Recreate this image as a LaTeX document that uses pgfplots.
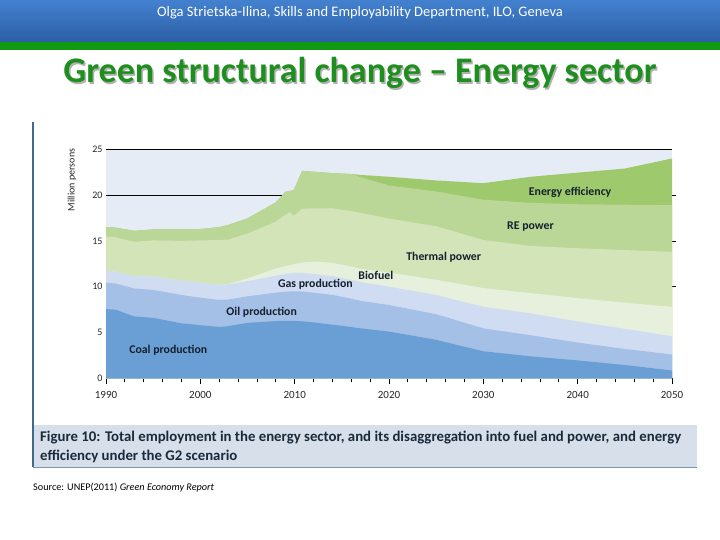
\documentclass[border=0pt]{standalone}
\usepackage{fontspec}
\setmainfont{Carlito}
\usepackage{pgfplots}
\usepackage{pgfplotstable}
\pgfplotsset{compat=1.18}

\definecolor{hdrtop}{HTML}{4381CF}
\definecolor{hdrbot}{HTML}{2C5EA5}
\definecolor{hdrgreen}{HTML}{129A12}
\definecolor{titlegreen}{HTML}{1E8E1E}
\definecolor{framec}{HTML}{3F6A8E}
\definecolor{capfill}{HTML}{D7DFEA}
\definecolor{captext}{HTML}{1B2A3A}
\definecolor{coalc}{HTML}{6A9FD6}
\definecolor{oilc}{HTML}{A4C0E6}
\definecolor{gasc}{HTML}{D0DCF1}
\definecolor{bioc}{HTML}{E7F0DC}
\definecolor{thermc}{HTML}{D3E4B9}
\definecolor{rec}{HTML}{BAD797}
\definecolor{eec}{HTML}{9EC96C}
\definecolor{bgl}{HTML}{E6ECF6}
\definecolor{labc}{HTML}{15202E}

% cumulative tops of the stacked layers (million persons)
\pgfplotstableread{
year   C     O     G     B     T     R     E
1990   7.55 10.45 11.75 11.75 15.45 16.50 16.50
1991   7.50 10.35 11.65 11.65 15.40 16.45 16.45
1993   6.75  9.80 11.15 11.15 14.90 16.10 16.10
1995   6.60  9.65 11.10 11.10 15.05 16.25 16.25
1998   6.00  9.10 10.65 10.65 15.00 16.25 16.25
2000   5.80  8.80 10.45 10.45 15.05 16.30 16.30
2002   5.60  8.55 10.20 10.20 15.10 16.50 16.50
2003   5.70  8.60 10.25 10.30 15.15 16.75 16.75
2005   6.05  8.95 10.60 10.90 15.80 17.45 17.45
2008   6.25  9.35 11.20 12.00 17.10 19.20 19.20
2009   6.28  9.45 11.40 12.25 17.85 20.35 20.35
2009.5 6.28  9.48 11.45 12.35 18.15 20.45 20.45
2009.9 6.27  9.50 11.50 12.45 17.75 20.55 20.55
2010.8 6.22  9.48 11.50 12.65 18.50 22.65 22.65
2012   6.10  9.35 11.40 12.75 18.55 22.55 22.55
2014   5.85  9.10 11.15 12.60 18.55 22.40 22.40
2016   5.60  8.70 10.75 12.20 18.25 22.30 22.30
2017   5.45  8.45 10.50 11.95 18.05 21.95 22.20
2020   5.10  8.00 10.00 11.55 17.45 21.05 22.00
2025   4.20  7.00  9.10 10.75 16.60 20.40 21.60
2030   2.95  5.45  7.80  9.85 15.10 19.50 21.30
2035   2.40  4.70  7.10  9.30 14.45 19.15 22.00
2040   1.95  3.90  6.20  8.75 14.20 19.00 22.45
2045   1.45  3.20  5.40  8.25 14.00 18.95 22.90
2050   0.85  2.60  4.60  7.80 13.80 18.90 24.00
}\energy

\begin{document}
\begin{tikzpicture}
\begin{scope}[x=1pt,y=1pt]
\useasboundingbox (0,0) rectangle (720,540);
% header
\shade[top color=hdrtop, bottom color=hdrbot] (0,498) rectangle (720,540);
\fill[hdrgreen] (0,490) rectangle (720,498);
\node[text=white, font=\fontsize{14.5}{16}\selectfont] at (360,527) {Olga Strietska-Ilina, Skills and Employability Department, ILO, Geneva};
% title with shadow
\node[text=black!30, font=\fontsize{36}{40}\selectfont\bfseries] at (361.5,465.5) {Green structural change – Energy sector};
\node[text=titlegreen, font=\fontsize{36}{40}\selectfont\bfseries] at (360,467) {Green structural change – Energy sector};
% figure frame and caption box
\fill[capfill] (33,73) rectangle (697,115);
\draw[framec, line width=1.2pt] (33,418) -- (33,73);
\draw[framec!70, line width=0.8pt] (33,73) -- (697,73);
\node[anchor=west, text=captext, font=\fontsize{14.8}{16}\selectfont\bfseries, inner sep=0] at (40,102) {Figure 10: Total employment in the energy sector, and its disaggregation into fuel and power, and energy};
\node[anchor=west, text=captext, font=\fontsize{14.8}{16}\selectfont\bfseries, inner sep=0] at (40,84) {efficiency under the G2 scenario};
\node[anchor=west, font=\fontsize{10.2}{12}\selectfont, inner sep=0] at (33,52) {Source: UNEP(2011) \textit{Green Economy Report}};
% y label
\node[rotate=90, font=\fontsize{10}{12}\selectfont, text=black!85] at (72,360) {Million persons};
% small outer ticks on the right edge
\draw[black, line width=0.6pt] (672,253.3) -- (676,253.3);
\draw[black, line width=0.6pt] (672,299.1) -- (676,299.1);
\draw[black, line width=0.6pt] (672,344.9) -- (676,344.9);
\end{scope}

\begin{axis}[
  at={(106pt,161.7pt)}, anchor=south west,
  scale only axis, width=566pt, height=229pt,
  xmin=1990, xmax=2050, ymin=0, ymax=25,
  axis x line*=bottom,
  axis y line*=left,
  y axis line style={draw=none},
  x axis line style={line width=1.4pt},
  xtick={1990,2000,2010,2020,2030,2040,2050},
  minor x tick num=4,
  ytick={0,5,10,15,20,25},
  ytick style={draw=none},
  xtick align=outside,
  major tick length=6pt, minor tick length=4pt,
  xtick style={black, line width=0.8pt},
  xticklabel style={font=\fontsize{11}{12}\selectfont, text=black!85, yshift=-4pt},
  yticklabel style={font=\fontsize{10}{12}\selectfont, text=black!85},
  /pgf/number format/assume math mode=true,
  /pgf/number format/1000 sep={},
  ymajorgrids, grid style={black, line width=0.7pt},
  axis background/.style={fill=bgl},
]
\addplot[fill=eec, draw=none] table[x=year,y=E] {\energy} \closedcycle;
\addplot[fill=rec, draw=none] table[x=year,y=R] {\energy} \closedcycle;
\addplot[fill=thermc, draw=none] table[x=year,y=T] {\energy} \closedcycle;
\addplot[fill=bioc, draw=none] table[x=year,y=B] {\energy} \closedcycle;
\addplot[fill=gasc, draw=none] table[x=year,y=G] {\energy} \closedcycle;
\addplot[fill=oilc, draw=none] table[x=year,y=O] {\energy} \closedcycle;
\addplot[fill=coalc, draw=none] table[x=year,y=C] {\energy} \closedcycle;
\node[font=\fontsize{11.8}{13}\selectfont\bfseries, text=labc] at (axis cs:1996.6,3.09) {Coal production};
\node[font=\fontsize{11.8}{13}\selectfont\bfseries, text=labc] at (axis cs:2006.5,7.24) {Oil production};
\node[font=\fontsize{11.8}{13}\selectfont\bfseries, text=labc] at (axis cs:2012.2,10.3) {Gas production};
\node[font=\fontsize{11.8}{13}\selectfont\bfseries, text=labc] at (axis cs:2018.6,11.27) {Biofuel};
\node[font=\fontsize{11.8}{13}\selectfont\bfseries, text=labc] at (axis cs:2025.8,13.24) {Thermal power};
\node[font=\fontsize{11.8}{13}\selectfont\bfseries, text=labc] at (axis cs:2035.0,16.6) {RE power};
\node[font=\fontsize{11.8}{13}\selectfont\bfseries, text=labc] at (axis cs:2039.2,20.3) {Energy efficiency};
\end{axis}
\end{tikzpicture}
\end{document}
